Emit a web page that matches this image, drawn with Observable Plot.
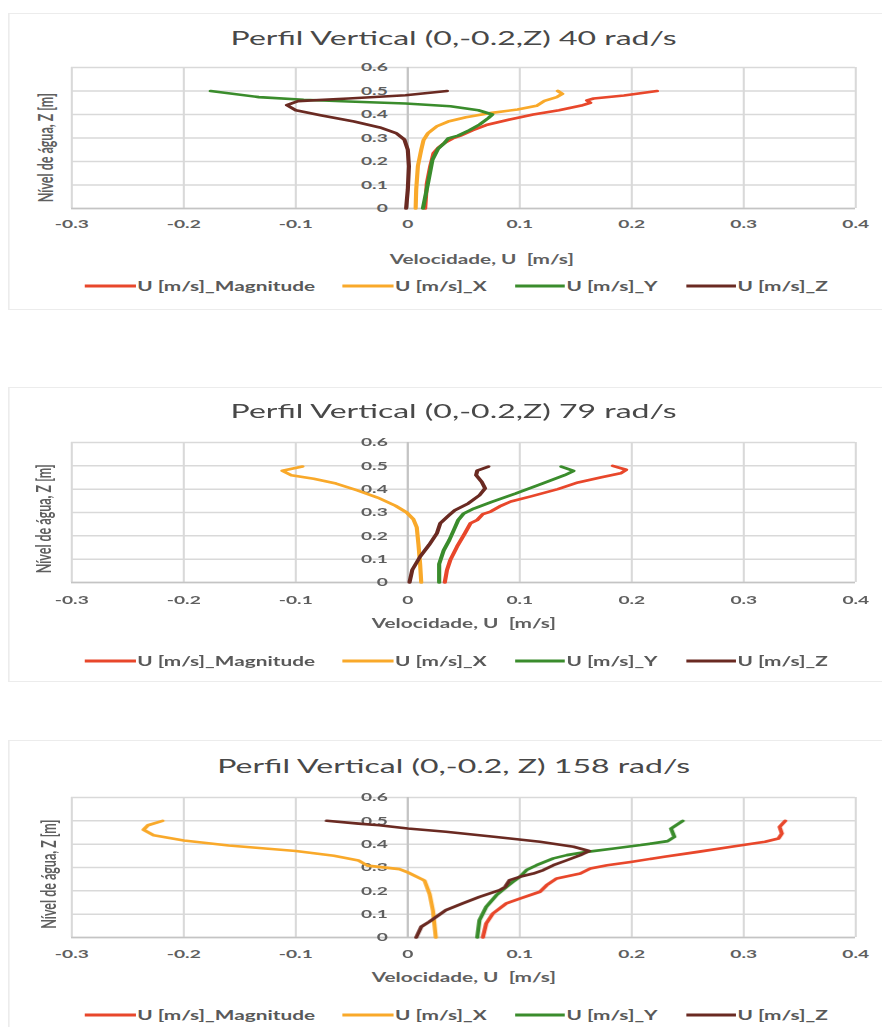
<!DOCTYPE html>
<html><head><meta charset="utf-8">
<script src="https://cdn.jsdelivr.net/npm/d3@7"></script>
<script src="https://cdn.jsdelivr.net/npm/@observablehq/plot@0.6"></script>
<style>
html,body{margin:0;padding:0;background:#fff;width:882px;height:1027px;overflow:hidden;}
#root{position:absolute;left:0;top:0;height:1027px;transform-origin:0 0;font-family:Lato,"Open Sans",sans-serif;color:#595959;}
.card{position:absolute;border:1px solid #ececec;border-right:none;background:#fff;}
.title{position:absolute;white-space:nowrap;color:#484848;transform:translateX(-50%);line-height:1;}
.legend{position:absolute;display:flex;align-items:center;white-space:nowrap;transform:translate(-50%,-50%);line-height:1;font-weight:bold;}
.item{display:flex;align-items:center;}
.sw{display:inline-block;height:3px;}
.plot{position:absolute;left:0;}
</style></head><body><div id="root"></div>
<script>
// ---------- data ----------
const seriesNames = ["U [m/s]_Magnitude", "U [m/s]_X", "U [m/s]_Y", "U [m/s]_Z"];
const seriesColors = ["#e8472b", "#f9a92a", "#3a8c2c", "#6a2a22"];
const xTicks = [-0.3, -0.2, -0.1, 0, 0.1, 0.2, 0.3, 0.4];
const yTicks = [0, 0.1, 0.2, 0.3, 0.4, 0.5, 0.6];
const xTitle = "Velocidade, U  [m/s]";
const yTitle = "Nível de água, Z [m]";
const titles = ["Perfil Vertical (0,-0.2,Z) 40 rad/s", "Perfil Vertical (0,-0.2,Z) 79 rad/s", "Perfil Vertical (0,-0.2, Z) 158 rad/s"];

// 40 rad/s  — [u, z]
const r40_mag = [[0.2225,0.5],[0.193,0.481],[0.166,0.468],[0.16,0.46],[0.163,0.45],[0.155,0.438],[0.135,0.418],[0.112,0.4],[0.09,0.378],[0.07,0.355],[0.058,0.333],[0.047,0.31],[0.04,0.298],[0.033,0.28],[0.027,0.257],[0.023,0.236],[0.02,0.179],[0.017,0.107],[0.0155,0]];
const r40_x = [[0.134,0.5],[0.138,0.488],[0.133,0.474],[0.122,0.458],[0.115,0.437],[0.098,0.421],[0.075,0.407],[0.052,0.388],[0.036,0.37],[0.026,0.35],[0.018,0.32],[0.014,0.29],[0.012,0.25],[0.009,0.18],[0.0075,0.08],[0.007,0]];
const r40_y = [[-0.176,0.5],[-0.133,0.474],[-0.093,0.463],[-0.053,0.455],[-0.002,0.447],[0.038,0.435],[0.063,0.418],[0.0755,0.4],[0.072,0.385],[0.064,0.357],[0.055,0.333],[0.045,0.31],[0.036,0.298],[0.033,0.28],[0.027,0.254],[0.022,0.207],[0.018,0.107],[0.0135,0]];
const r40_z = [[0.035,0.5],[-0.002,0.482],[-0.053,0.468],[-0.098,0.457],[-0.108,0.44],[-0.1,0.418],[-0.078,0.397],[-0.048,0.37],[-0.025,0.345],[-0.0105,0.321],[-0.003,0.293],[0,0.25],[0.001,0.18],[0,0.08],[-0.0015,0]];

// 79 rad/s
const r79_mag = [[0.183,0.5],[0.195,0.483],[0.19,0.468],[0.173,0.451],[0.152,0.429],[0.134,0.4],[0.11,0.369],[0.092,0.347],[0.082,0.326],[0.074,0.304],[0.067,0.293],[0.062,0.268],[0.056,0.254],[0.051,0.211],[0.044,0.154],[0.038,0.097],[0.035,0.054],[0.033,0]];
const r79_x = [[-0.094,0.497],[-0.112,0.479],[-0.104,0.46],[-0.084,0.445],[-0.064,0.424],[-0.045,0.395],[-0.027,0.364],[-0.011,0.329],[-0.001,0.3],[0.005,0.271],[0.008,0.236],[0.0095,0.164],[0.011,0.079],[0.012,0]];
const r79_y = [[0.137,0.497],[0.148,0.478],[0.14,0.46],[0.12,0.424],[0.096,0.381],[0.075,0.346],[0.059,0.317],[0.05,0.296],[0.045,0.267],[0.041,0.224],[0.037,0.181],[0.032,0.137],[0.028,0.079],[0.028,0]];
const r79_z = [[0.072,0.497],[0.062,0.479],[0.061,0.46],[0.066,0.431],[0.069,0.403],[0.064,0.374],[0.054,0.339],[0.042,0.31],[0.037,0.289],[0.029,0.254],[0.026,0.211],[0.019,0.161],[0.011,0.111],[0.004,0.054],[0.0015,0]];

// 158 rad/s
const r158_mag = [[0.337,0.5],[0.332,0.474],[0.334,0.446],[0.331,0.424],[0.319,0.41],[0.289,0.389],[0.259,0.367],[0.229,0.346],[0.199,0.324],[0.178,0.31],[0.163,0.296],[0.154,0.274],[0.133,0.253],[0.124,0.224],[0.118,0.196],[0.1,0.167],[0.088,0.146],[0.076,0.103],[0.07,0.06],[0.067,0]];
const r158_x = [[-0.219,0.5],[-0.232,0.481],[-0.236,0.462],[-0.227,0.438],[-0.2,0.416],[-0.16,0.394],[-0.1,0.371],[-0.066,0.35],[-0.044,0.33],[-0.036,0.308],[-0.0075,0.293],[0,0.279],[0.0125,0.25],[0.015,0.243],[0.0195,0.186],[0.0225,0.114],[0.025,0]];
const r158_y = [[0.2455,0.5],[0.235,0.467],[0.238,0.431],[0.232,0.413],[0.208,0.396],[0.184,0.381],[0.16,0.367],[0.142,0.353],[0.13,0.339],[0.115,0.31],[0.106,0.289],[0.1,0.26],[0.094,0.239],[0.088,0.217],[0.079,0.181],[0.07,0.131],[0.064,0.074],[0.062,0]];
const r158_z = [[-0.0724,0.5],[-0.044,0.488],[-0.0255,0.481],[0,0.467],[0.034,0.453],[0.079,0.431],[0.118,0.41],[0.148,0.389],[0.162,0.371],[0.154,0.353],[0.142,0.331],[0.13,0.31],[0.121,0.289],[0.112,0.274],[0.1,0.26],[0.091,0.246],[0.087,0.217],[0.082,0.203],[0.064,0.174],[0.049,0.146],[0.034,0.117],[0.019,0.067],[0.012,0.046],[0.0075,0]];

const panelSeries = [
  [r40_mag, r40_x, r40_y, r40_z],
  [r79_mag, r79_x, r79_y, r79_z],
  [r158_mag, r158_x, r158_y, r158_z]
];

// ---------- layout (page pixels) ----------
const S = 1.6;              // horizontal stretch of the whole figure
const W = 882 / S;
const PL = 71, PR = 855;    // plot frame left/right
const layout = [
  {card:[13,308],  titleBase:45,  plotTop:67.3,  plotBottom:208.3, tickY:224,   xTitleY:260, xTitleCx:481, yTitleCx:46, yTitleCy:147.5, legendY:286},
  {card:[387,680], titleBase:418, plotTop:441.7, plotBottom:581.7, tickY:599.3, xTitleY:623, xTitleCx:463, yTitleCx:44, yTitleCy:518,   legendY:661},
  {card:[740,1040],titleBase:773, plotTop:797.3, plotBottom:937.3, tickY:954.3, xTitleY:978, xTitleCx:463, yTitleCx:49, yTitleCy:874,   legendY:1015}
];
const titleSize = 20, legendSize = 13;

const root = document.getElementById("root");
root.style.width = W + "px";
root.style.transform = `scaleX(${S})`;
const fmt = d => String(d);

layout.forEach((L, i) => {
  const card = document.createElement("div");
  card.className = "card";
  card.style.left = (8 / S) + "px";
  card.style.width = (W - 8 / S) + "px";
  card.style.top = L.card[0] + "px";
  card.style.height = (L.card[1] - L.card[0]) + "px";
  root.appendChild(card);

  const t = document.createElement("div");
  t.className = "title";
  t.style.fontSize = titleSize + "px";
  t.style.left = (453.6 / S) + "px";
  t.style.top = (L.titleBase - 0.887 * titleSize) + "px";
  t.textContent = titles[i];
  root.appendChild(t);

  const rows = [];
  panelSeries[i].forEach((arr, k) => arr.forEach(([u, z]) => rows.push({series: seriesNames[k], u, z})));

  const mt = 10;
  const mb = (L.xTitleY - L.plotBottom) + 14;
  const h = mt + (L.plotBottom - L.plotTop) + mb;
  const plotCx = (PL + PR) / 2, plotCy = (L.plotTop + L.plotBottom) / 2;

  const chart = Plot.plot({
    width: W, height: h,
    marginLeft: PL / S, marginRight: (882 - PR) / S, marginTop: mt, marginBottom: mb,
    x: {domain: [-0.3, 0.4], axis: null},
    y: {domain: [0, 0.6], axis: null},
    color: {domain: seriesNames, range: seriesColors},
    style: {fontFamily: "Lato, sans-serif", background: "transparent", overflow: "visible", maxWidth: "none"},
    marks: [
      Plot.gridX(xTicks, {stroke: "#d9d9d9", strokeOpacity: 1, strokeWidth: 1.3}),
      Plot.gridY(yTicks, {stroke: "#d9d9d9", strokeOpacity: 1, strokeWidth: 1.5}),
      Plot.ruleX([0], {stroke: "#c4c4c4", strokeWidth: 1.3}),
      Plot.ruleY([0], {stroke: "#c4c4c4", strokeWidth: 1.5}),
      Plot.text(yTicks, {x: 0, y: d => d, text: fmt, textAnchor: "end", dx: -12.5, fontSize: 12, fontWeight: "bold", fill: "#5f5f5f", lineAnchor: "middle"}),
      Plot.text(xTicks, {x: d => d, text: fmt, frameAnchor: "bottom", dy: L.tickY - L.plotBottom, lineAnchor: "middle", fontSize: 12, fontWeight: "bold", fill: "#5f5f5f"}),
      Plot.text([xTitle], {frameAnchor: "bottom", dx: (L.xTitleCx - plotCx) / S, dy: L.xTitleY - L.plotBottom, lineAnchor: "middle", fontSize: 13, fontWeight: "bold", fill: "#5f5f5f"}),
      Plot.text([yTitle], {frameAnchor: "left", textAnchor: "middle", rotate: -90, dx: (L.yTitleCx - PL) / S, dy: L.yTitleCy - plotCy, lineAnchor: "middle", fontSize: 12.5, fontWeight: "bold", fill: "#5f5f5f"}),
      Plot.line(rows, {x: "u", y: "z", z: "series", stroke: "series", strokeWidth: 2.6, strokeLinejoin: "round", strokeLinecap: "round"})
    ]
  });
  chart.classList.add("plot");
  chart.style.top = (L.plotTop - mt) + "px";
  root.appendChild(chart);

  const lg = document.createElement("div");
  lg.className = "legend";
  lg.style.left = (456.5 / S) + "px";
  lg.style.top = L.legendY + "px";
  lg.style.fontSize = legendSize + "px";
  lg.style.gap = (28 / S) + "px";
  seriesNames.forEach((name, k) => {
    const it = document.createElement("div");
    it.className = "item";
    const sw = document.createElement("span");
    sw.className = "sw";
    sw.style.width = (50 / S) + "px";
    sw.style.marginRight = (2 / S) + "px";
    sw.style.background = seriesColors[k];
    const tx = document.createElement("span");
    tx.textContent = name;
    it.appendChild(sw); it.appendChild(tx);
    lg.appendChild(it);
  });
  root.appendChild(lg);
});
</script></body></html>
